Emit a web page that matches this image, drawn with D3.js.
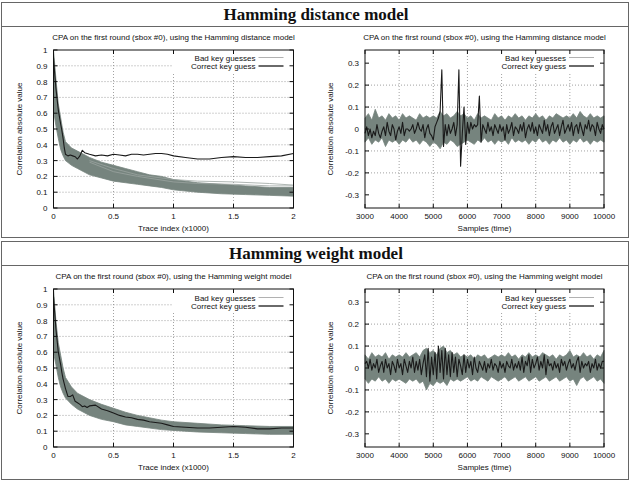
<!DOCTYPE html>
<html>
<head>
<meta charset="utf-8">
<script src="https://cdn.jsdelivr.net/npm/d3@7"></script>
<style>
body { margin:0; background:#fff; }
text { font-family:"Liberation Sans", Arial, sans-serif; fill:#111; }
</style>
</head>
<body>
<script>
// ---- trace index plots (x in thousands of traces) ----
var traceX   = [0,0.02,0.04,0.06,0.08,0.1,0.15,0.2,0.3,0.4,0.5,0.6,0.7,0.8,0.9,1.0,1.2,1.4,1.6,1.8,2.0];
var hdBandHi = [1.0,0.82,0.66,0.57,0.48,0.42,0.38,0.36,0.32,0.29,0.27,0.25,0.23,0.21,0.2,0.18,0.16,0.15,0.14,0.13,0.13];
var hdBandLo = [0.62,0.52,0.44,0.37,0.33,0.3,0.27,0.25,0.21,0.19,0.17,0.16,0.15,0.14,0.13,0.115,0.1,0.09,0.085,0.08,0.075];
var hwBandHi = [1.0,0.8,0.66,0.58,0.5,0.44,0.38,0.34,0.3,0.27,0.245,0.22,0.2,0.185,0.17,0.16,0.15,0.14,0.135,0.13,0.13];
var hwBandLo = [0.6,0.52,0.44,0.38,0.34,0.31,0.27,0.24,0.2,0.175,0.16,0.14,0.13,0.12,0.11,0.105,0.095,0.09,0.085,0.08,0.08];

var outlierX = [0.3,0.5,0.7,1.0,1.2,1.5,1.8,2.0];
var hdOutA   = [0.3,0.25,0.21,0.18,0.17,0.165,0.155,0.145];
var hdOutB   = [0.29,0.23,0.2,0.165,0.155,0.15,0.14,0.14];

var corrX     = [0,0.01,0.02,0.04,0.06,0.07,0.08,0.09,0.1,0.12,0.14,0.16,0.18,0.2,0.22,0.24,0.26,0.28,0.3,0.35,0.4,0.45,0.5,0.55,0.6,0.65,0.7,0.75,0.8,0.85,0.9,0.95,1.0,1.1,1.2,1.3,1.4,1.5,1.6,1.7,1.8,1.9,2.0];
var hdCorrect = [0.95,0.85,0.76,0.62,0.53,0.49,0.44,0.38,0.34,0.33,0.335,0.33,0.325,0.31,0.33,0.365,0.35,0.345,0.34,0.33,0.335,0.33,0.34,0.335,0.33,0.34,0.34,0.335,0.34,0.345,0.345,0.34,0.33,0.32,0.31,0.31,0.32,0.325,0.32,0.32,0.325,0.33,0.345];
var hwCorrect = [0.95,0.85,0.75,0.6,0.52,0.47,0.43,0.4,0.37,0.32,0.32,0.33,0.29,0.28,0.27,0.255,0.26,0.25,0.26,0.265,0.24,0.23,0.215,0.2,0.19,0.185,0.175,0.17,0.16,0.155,0.15,0.14,0.13,0.125,0.12,0.12,0.125,0.13,0.125,0.115,0.115,0.12,0.12];

// ---- samples plots (time), band every 100 samples, correct guess every 50 ----
var hdSampHi = [0.05,0.07,0.04,0.09,0.05,0.06,0.04,0.07,0.05,0.06,
                0.04,0.07,0.05,0.06,0.05,0.04,0.07,0.05,0.06,0.05,
                0.06,0.05,0.08,0.06,0.07,0.05,0.06,0.08,0.06,0.07,
                0.05,0.06,0.04,0.07,0.05,0.06,0.05,0.04,0.07,0.05,
                0.06,0.04,0.06,0.05,0.07,0.05,0.06,0.04,0.06,0.05,
                0.07,0.05,0.06,0.04,0.06,0.05,0.07,0.06,0.05,0.06,
                0.05,0.07,0.05,0.08,0.06,0.05,0.07,0.05,0.06,0.05,0.06];
var hdSampLo = [-0.06,-0.04,-0.07,-0.05,-0.06,-0.04,-0.08,-0.05,-0.06,-0.05,
                -0.07,-0.05,-0.06,-0.04,-0.06,-0.05,-0.07,-0.05,-0.06,-0.08,
                -0.06,-0.07,-0.09,-0.06,-0.07,-0.05,-0.06,-0.08,-0.07,-0.06,
                -0.05,-0.06,-0.07,-0.05,-0.06,-0.04,-0.06,-0.05,-0.07,-0.05,
                -0.06,-0.05,-0.07,-0.04,-0.06,-0.05,-0.06,-0.05,-0.07,-0.05,
                -0.06,-0.04,-0.06,-0.05,-0.07,-0.05,-0.06,-0.04,-0.06,-0.05,
                -0.07,-0.05,-0.06,-0.04,-0.06,-0.05,-0.07,-0.05,-0.06,-0.05,-0.06];
var hwSampHi = [0.06,0.04,0.07,0.05,0.06,0.05,0.07,0.04,0.06,0.05,
                0.06,0.05,0.07,0.05,0.06,0.07,0.05,0.08,0.09,0.07,
                0.08,0.06,0.09,0.10,0.07,0.08,0.06,0.07,0.05,0.06,
                0.05,0.06,0.04,0.06,0.05,0.06,0.04,0.05,0.06,0.05,
                0.06,0.05,0.07,0.05,0.06,0.04,0.06,0.05,0.07,0.05,
                0.06,0.05,0.07,0.06,0.05,0.06,0.04,0.06,0.05,0.06,
                0.08,0.05,0.06,0.05,0.07,0.05,0.06,0.04,0.06,0.05,0.08];
var hwSampLo = [-0.05,-0.07,-0.05,-0.06,-0.04,-0.06,-0.05,-0.07,-0.05,-0.06,
                -0.05,-0.06,-0.07,-0.05,-0.06,-0.05,-0.07,-0.06,-0.10,-0.07,
                -0.08,-0.06,-0.07,-0.06,-0.08,-0.05,-0.06,-0.05,-0.06,-0.05,
                -0.04,-0.06,-0.05,-0.06,-0.04,-0.05,-0.06,-0.04,-0.05,-0.06,
                -0.05,-0.04,-0.06,-0.05,-0.04,-0.06,-0.05,-0.04,-0.06,-0.05,
                -0.04,-0.06,-0.05,-0.04,-0.06,-0.05,-0.04,-0.06,-0.05,-0.04,
                -0.06,-0.05,-0.08,-0.05,-0.04,-0.06,-0.05,-0.04,-0.06,-0.05,-0.07];
var hdSampCorrect = [-0.02,0.01,-0.03,0.0,-0.04,-0.01,-0.03,0.02,-0.02,-0.04,
                     -0.01,0.01,-0.03,0.03,-0.01,-0.03,0.02,0.0,-0.05,-0.01,
                     0.01,-0.02,0.03,-0.03,0.0,0.0,-0.01,0.0,0.02,-0.02,
                     0.0,0.03,0.0,-0.01,0.02,-0.04,0.0,0.02,-0.02,-0.03,
                     -0.05,0.01,0.03,0.05,0.08,0.27,-0.08,0.02,-0.03,0.02,
                     -0.02,0.0,0.03,-0.03,0.02,0.27,-0.17,-0.02,0.10,-0.07,
                     0.03,-0.02,0.03,0.0,0.02,0.01,0.02,0.15,-0.06,0.02,
                     0.0,-0.02,0.03,-0.01,0.01,-0.03,0.02,0.0,-0.02,0.02,
                     -0.01,0.01,-0.05,0.02,-0.02,0.0,0.03,-0.03,0.01,0.0,
                     -0.02,0.02,-0.01,0.03,-0.04,0.0,0.02,-0.01,0.03,-0.02,
                     0.01,-0.03,0.02,0.0,-0.02,0.04,-0.01,0.02,-0.03,0.01,
                     0.03,-0.02,0.0,0.02,-0.03,0.01,0.04,-0.02,0.0,0.02,
                     -0.01,0.03,-0.03,0.01,0.02,-0.02,0.03,0.0,-0.03,0.02,
                     0.0,0.04,-0.01,0.02,0.01,-0.03,0.03,0.0,-0.02,0.02,0.0];
var hwSampCorrect = [0.02,0.03,0.0,0.04,-0.01,0.02,0.0,0.04,-0.02,0.01,
                     0.03,-0.02,0.04,0.0,0.02,-0.03,0.03,0.01,-0.02,0.04,
                     0.0,0.02,-0.03,0.04,0.01,-0.02,0.03,0.0,0.05,-0.02,
                     0.03,-0.01,0.04,-0.03,0.02,0.06,-0.04,0.09,-0.06,0.05,
                     -0.03,0.07,-0.05,0.10,-0.02,0.08,-0.05,0.09,-0.03,0.06,
                     -0.04,0.07,-0.02,0.05,-0.04,0.04,0.01,-0.03,0.06,-0.02,
                     0.04,0.0,0.03,-0.03,0.05,0.0,-0.02,0.03,0.01,-0.01,
                     0.03,-0.02,0.02,0.0,0.04,-0.01,0.02,0.01,-0.02,0.03,
                     0.0,0.02,-0.02,0.03,0.01,0.0,0.04,-0.01,0.02,0.0,
                     0.03,-0.01,0.05,-0.02,0.03,0.01,0.06,-0.02,0.04,0.0,
                     0.02,0.05,-0.01,0.03,0.0,0.06,-0.03,0.04,0.01,0.02,
                     -0.01,0.03,0.0,0.02,-0.02,0.04,0.01,0.03,-0.01,0.02,
                     0.04,0.0,0.02,-0.01,0.03,0.05,-0.02,0.03,0.0,0.02,
                     0.01,0.03,-0.02,0.02,0.0,0.04,-0.01,0.02,0.0,0.03,0.03];
var sampBandX = d3.range(3000, 10001, 100);
var sampLineX = d3.range(3000, 10001, 50);

var traceTicks  = [0,0.5,1,1.5,2];
var corrTicks   = [0,0.1,0.2,0.3,0.4,0.5,0.6,0.7,0.8,0.9,1];
var sampTicks   = [3000,4000,5000,6000,7000,8000,9000,10000];
var signedTicks = [-0.3,-0.2,-0.1,0,0.1,0.2,0.3];

var sections = ["Hamming distance model", "Hamming weight model"];
var plotTitles = ["CPA on the first round (sbox #0), using the Hamming distance model",
                  "CPA on the first round (sbox #0), using the Hamming weight model"];
var legendLabels = ["Bad key guesses", "Correct key guess"];

var bandColor = "#76847e";

var svg = d3.select("body").append("svg").attr("width", 632).attr("height", 482);

function fmt(d){ return String(+d.toFixed(1)); }

function drawPlot(o){
  var x = d3.scaleLinear().domain(o.xDomain).range([o.left, o.right]);
  var y = d3.scaleLinear().domain(o.yDomain).range([o.bottom, o.top]);
  var g = svg.append("g");

  // grid
  g.selectAll("line.gx").data(o.xTicks.slice(1, -1)).enter().append("line")
    .attr("x1", function(d){ return x(d); }).attr("x2", function(d){ return x(d); })
    .attr("y1", o.top).attr("y2", o.bottom)
    .attr("stroke", "#8a8a8a").attr("stroke-width", 0.8).attr("stroke-dasharray", "1,2");
  g.selectAll("line.gy").data(o.yTicks.slice(1, -1)).enter().append("line")
    .attr("y1", function(d){ return y(d); }).attr("y2", function(d){ return y(d); })
    .attr("x1", o.left).attr("x2", o.right)
    .attr("stroke", "#8a8a8a").attr("stroke-width", 0.8).attr("stroke-dasharray", "1,2");

  // legend background hides the grid
  g.append("rect").attr("x", o.right - 121).attr("y", o.top + 1)
    .attr("width", 120).attr("height", 21).attr("fill", "#fff");

  // bad key guesses: envelope of the 255 curves
  var area = d3.area()
    .x(function(d, i){ return x(o.bandX[i]); })
    .y0(function(d, i){ return y(o.bandLo[i]); })
    .y1(function(d){ return y(d); });
  g.append("path").datum(o.bandHi).attr("d", area)
    .attr("fill", bandColor).attr("stroke", bandColor).attr("stroke-width", 0.8);

  var line = function(xs){
    return d3.line().x(function(d, i){ return x(xs[i]); }).y(function(d){ return y(d); });
  };
  (o.outliers || []).forEach(function(s){
    g.append("path").datum(s).attr("d", line(outlierX))
      .attr("fill", "none").attr("stroke", "#9aa39f").attr("stroke-width", 0.8);
  });

  g.append("path").datum(o.correct).attr("d", line(o.correctX))
    .attr("fill", "none").attr("stroke", "#1a1a1a").attr("stroke-width", 1.1)
    .attr("stroke-linejoin", "round");

  // frame and inner ticks
  g.append("rect").attr("x", o.left).attr("y", o.top)
    .attr("width", o.right - o.left).attr("height", o.bottom - o.top)
    .attr("fill", "none").attr("stroke", "#111").attr("stroke-width", 1);
  g.selectAll("path.tx").data(o.xTicks).enter().append("path")
    .attr("d", function(d){ return "M" + x(d) + "," + o.bottom + "v-4M" + x(d) + "," + o.top + "v4"; })
    .attr("stroke", "#111");
  g.selectAll("path.ty").data(o.yTicks).enter().append("path")
    .attr("d", function(d){ return "M" + o.left + "," + y(d) + "h4M" + o.right + "," + y(d) + "h-4"; })
    .attr("stroke", "#111");

  // tick labels
  g.selectAll("text.xl").data(o.xTicks).enter().append("text")
    .attr("x", function(d){ return x(d); }).attr("y", o.bottom + 10.5)
    .attr("text-anchor", "middle").attr("font-size", 8).text(fmt);
  g.selectAll("text.yl").data(o.yTicks).enter().append("text")
    .attr("x", o.left - 6).attr("y", function(d){ return y(d) + 3; })
    .attr("text-anchor", "end").attr("font-size", 8).text(fmt);

  // labels
  var cx = (o.left + o.right) / 2;
  g.append("text").attr("x", cx).attr("y", o.top - 10)
    .attr("text-anchor", "middle").attr("font-size", 8).text(o.title);
  g.append("text").attr("x", cx).attr("y", o.bottom + 23)
    .attr("text-anchor", "middle").attr("font-size", 8).text(o.xlabel);
  g.append("text")
    .attr("transform", "translate(" + o.ylabelX + "," + ((o.top + o.bottom) / 2) + ") rotate(-90)")
    .attr("text-anchor", "middle").attr("font-size", 8).text("Correlation absolute value");

  // legend
  var ly = [o.top + o.legendDy, o.top + o.legendDy + 8.5];
  var lc = ["#a8a8a8", "#1a1a1a"];
  var lw = [0.9, 1.3];
  legendLabels.forEach(function(t, i){
    g.append("text").attr("x", o.right - 38).attr("y", ly[i] + 3)
      .attr("text-anchor", "end").attr("font-size", 8).text(t);
    g.append("line").attr("x1", o.right - 35).attr("x2", o.right - 10)
      .attr("y1", ly[i]).attr("y2", ly[i])
      .attr("stroke", lc[i]).attr("stroke-width", lw[i]);
  });
}

var boxes = [{top:2, bottom:237}, {top:241, bottom:479}];
var plotTop = [50, 289];
var bands = [[hdBandHi, hdBandLo, hdCorrect, [hdOutA, hdOutB]], [hwBandHi, hwBandLo, hwCorrect, []]];
var sBands = [[hdSampHi, hdSampLo, hdSampCorrect], [hwSampHi, hwSampLo, hwSampCorrect]];

boxes.forEach(function(b, k){
  svg.append("rect").attr("x", 1.5).attr("y", b.top + 0.5)
    .attr("width", 627).attr("height", b.bottom - b.top)
    .attr("fill", "none").attr("stroke", "#666").attr("stroke-width", 1);
  svg.append("line").attr("x1", 1.5).attr("x2", 628.5)
    .attr("y1", b.top + 24.5).attr("y2", b.top + 24.5)
    .attr("stroke", "#666").attr("stroke-width", 1);
  svg.append("text").attr("x", 316).attr("y", b.top + 18)
    .attr("text-anchor", "middle").attr("font-size", 17).attr("font-weight", "bold")
    .style("font-family", "'Liberation Serif', 'DejaVu Serif', serif")
    .text(sections[k]);

  var t = plotTop[k];
  drawPlot({
    left:53.5, right:293.5, top:t, bottom:t + 158,
    xDomain:[0, 2], yDomain:[0, 1], xTicks:traceTicks, yTicks:corrTicks,
    bandX:traceX, bandHi:bands[k][0], bandLo:bands[k][1],
    correctX:corrX, correct:bands[k][2], outliers:bands[k][3],
    title:plotTitles[k], xlabel:"Trace index (x1000)", ylabelX:22,
    legendDy: k ? 8.5 : 7.5
  });
  drawPlot({
    left:365, right:604, top:t, bottom:t + 158,
    xDomain:[3000, 10000], yDomain:[-0.36, 0.36], xTicks:sampTicks, yTicks:signedTicks,
    bandX:sampBandX, bandHi:sBands[k][0], bandLo:sBands[k][1],
    correctX:sampLineX, correct:sBands[k][2],
    title:plotTitles[k], xlabel:"Samples (time)", ylabelX:333,
    legendDy: k ? 8.5 : 7.5
  });
});
</script>
</body>
</html>
